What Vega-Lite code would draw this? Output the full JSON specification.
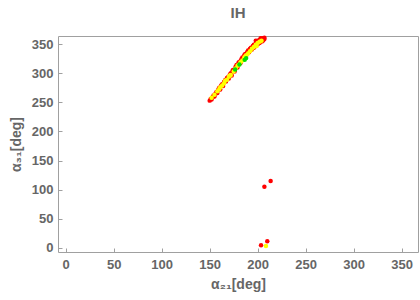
{
  "$schema": "https://vega.github.io/schema/vega-lite/v6.json",
  "autosize": "none",
  "width": 360,
  "height": 216,
  "padding": {"left": 58, "top": 36, "right": 2, "bottom": 48},
  "title": {"text": "IH", "font": "Liberation Sans", "fontSize": 15, "fontWeight": "bold", "color": "#666666", "offset": 15},
  "config": {
    "view": {"stroke": "#a0a0a0", "strokeWidth": 1},
    "axis": {
      "labelFont": "Liberation Sans", "labelFontSize": 13, "labelFontWeight": "bold", "labelColor": "#666666",
      "titleFont": "Liberation Sans", "titleFontSize": 14, "titleFontWeight": "bold", "titleColor": "#666666",
      "domain": false, "grid": false, "tickColor": "#a0a0a0", "tickSize": -4, "labelPadding": 10
    }
  },
  "data": {"values": [
    {"a21": 150, "a31": 253, "c": "r"}, {"a21": 151, "a31": 256, "c": "r"}, {"a21": 152, "a31": 255, "c": "r"},
    {"a21": 153, "a31": 259, "c": "r"}, {"a21": 154, "a31": 262, "c": "r"}, {"a21": 155, "a31": 260, "c": "r"},
    {"a21": 156, "a31": 265, "c": "r"}, {"a21": 157, "a31": 268, "c": "r"}, {"a21": 158, "a31": 266, "c": "r"},
    {"a21": 159, "a31": 272, "c": "r"}, {"a21": 160, "a31": 275, "c": "r"}, {"a21": 161, "a31": 272, "c": "r"},
    {"a21": 162, "a31": 279, "c": "r"}, {"a21": 163, "a31": 281, "c": "r"}, {"a21": 164, "a31": 278, "c": "r"},
    {"a21": 165, "a31": 285, "c": "r"}, {"a21": 166, "a31": 288, "c": "r"}, {"a21": 167, "a31": 286, "c": "r"},
    {"a21": 168, "a31": 292, "c": "r"}, {"a21": 169, "a31": 293, "c": "r"}, {"a21": 170, "a31": 291, "c": "r"},
    {"a21": 171, "a31": 298, "c": "r"}, {"a21": 172, "a31": 300, "c": "r"}, {"a21": 173, "a31": 296, "c": "r"},
    {"a21": 174, "a31": 305, "c": "r"}, {"a21": 175, "a31": 306, "c": "r"}, {"a21": 176, "a31": 303, "c": "r"},
    {"a21": 177, "a31": 311, "c": "r"}, {"a21": 178, "a31": 314, "c": "r"}, {"a21": 179, "a31": 310, "c": "r"},
    {"a21": 180, "a31": 318, "c": "r"}, {"a21": 181, "a31": 320, "c": "r"}, {"a21": 182, "a31": 317, "c": "r"},
    {"a21": 183, "a31": 324, "c": "r"}, {"a21": 184, "a31": 327, "c": "r"}, {"a21": 185, "a31": 323, "c": "r"},
    {"a21": 186, "a31": 331, "c": "r"}, {"a21": 187, "a31": 333, "c": "r"}, {"a21": 188, "a31": 330, "c": "r"},
    {"a21": 189, "a31": 336, "c": "r"}, {"a21": 190, "a31": 339, "c": "r"}, {"a21": 191, "a31": 336, "c": "r"},
    {"a21": 192, "a31": 342, "c": "r"}, {"a21": 193, "a31": 344, "c": "r"}, {"a21": 194, "a31": 341, "c": "r"},
    {"a21": 195, "a31": 347, "c": "r"}, {"a21": 196, "a31": 349, "c": "r"}, {"a21": 197, "a31": 346, "c": "r"},
    {"a21": 198, "a31": 351, "c": "r"}, {"a21": 199, "a31": 353, "c": "r"}, {"a21": 200, "a31": 350, "c": "r"},
    {"a21": 201, "a31": 355, "c": "r"}, {"a21": 202, "a31": 357, "c": "r"}, {"a21": 203, "a31": 354, "c": "r"},
    {"a21": 204, "a31": 358, "c": "r"}, {"a21": 205, "a31": 360, "c": "r"}, {"a21": 206, "a31": 357, "c": "r"},
    {"a21": 207, "a31": 359, "c": "r"}, {"a21": 203, "a31": 360, "c": "r"}, {"a21": 200, "a31": 356, "c": "r"},
    {"a21": 198, "a31": 356, "c": "r"}, {"a21": 205, "a31": 355, "c": "r"}, {"a21": 207, "a31": 361, "c": "r"},
    {"a21": 202, "a31": 352, "c": "r"}, {"a21": 196, "a31": 344, "c": "r"},
    {"a21": 207, "a31": 105, "c": "r"}, {"a21": 213.5, "a31": 115, "c": "r"},
    {"a21": 203.5, "a31": 4.6, "c": "r"}, {"a21": 210, "a31": 11.5, "c": "r"},
    {"a21": 152, "a31": 258, "c": "y"}, {"a21": 155, "a31": 263, "c": "y"}, {"a21": 158, "a31": 269, "c": "y"},
    {"a21": 160, "a31": 273, "c": "y"}, {"a21": 163, "a31": 279, "c": "y"}, {"a21": 165, "a31": 283, "c": "y"},
    {"a21": 168, "a31": 289, "c": "y"}, {"a21": 170, "a31": 294, "c": "y"}, {"a21": 172, "a31": 297, "c": "y"},
    {"a21": 175, "a31": 303, "c": "y"}, {"a21": 177, "a31": 308, "c": "y"}, {"a21": 180, "a31": 314, "c": "y"},
    {"a21": 182, "a31": 319, "c": "y"}, {"a21": 184, "a31": 322, "c": "y"}, {"a21": 186, "a31": 327, "c": "y"},
    {"a21": 188, "a31": 331, "c": "y"}, {"a21": 190, "a31": 334, "c": "y"}, {"a21": 192, "a31": 338, "c": "y"},
    {"a21": 194, "a31": 342, "c": "y"}, {"a21": 196, "a31": 345, "c": "y"}, {"a21": 198, "a31": 349, "c": "y"},
    {"a21": 200, "a31": 352, "c": "y"}, {"a21": 202, "a31": 354, "c": "y"}, {"a21": 204, "a31": 356, "c": "y"},
    {"a21": 199, "a31": 347, "c": "y"}, {"a21": 187, "a31": 329, "c": "y"}, {"a21": 179, "a31": 313, "c": "y"},
    {"a21": 171, "a31": 296, "c": "y"}, {"a21": 166, "a31": 287, "c": "y"}, {"a21": 161, "a31": 276, "c": "y"},
    {"a21": 208.6, "a31": 3.4, "c": "y"},
    {"a21": 176.5, "a31": 306.5, "c": "g"}, {"a21": 186.5, "a31": 323, "c": "g"},
    {"a21": 188, "a31": 326, "c": "g"}, {"a21": 181, "a31": 315, "c": "g"}
  ]},
  "mark": {"type": "circle", "size": 20, "opacity": 1},
  "encoding": {
    "x": {"field": "a21", "type": "quantitative", "title": "α₂₁[deg]",
          "scale": {"domain": [-8, 367], "nice": false, "zero": false},
          "axis": {"values": [0, 50, 100, 150, 200, 250, 300, 350], "titlePadding": 6}},
    "y": {"field": "a31", "type": "quantitative", "title": "α₃₁[deg]",
          "scale": {"domain": [-7, 364], "nice": false, "zero": false},
          "axis": {"values": [0, 50, 100, 150, 200, 250, 300, 350], "labelPadding": 9, "titlePadding": 8}},
    "color": {"field": "c", "type": "nominal", "legend": null,
              "scale": {"domain": ["r", "y", "g"], "range": ["#ff0000", "#ffff00", "#00e000"]}}
  }
}
